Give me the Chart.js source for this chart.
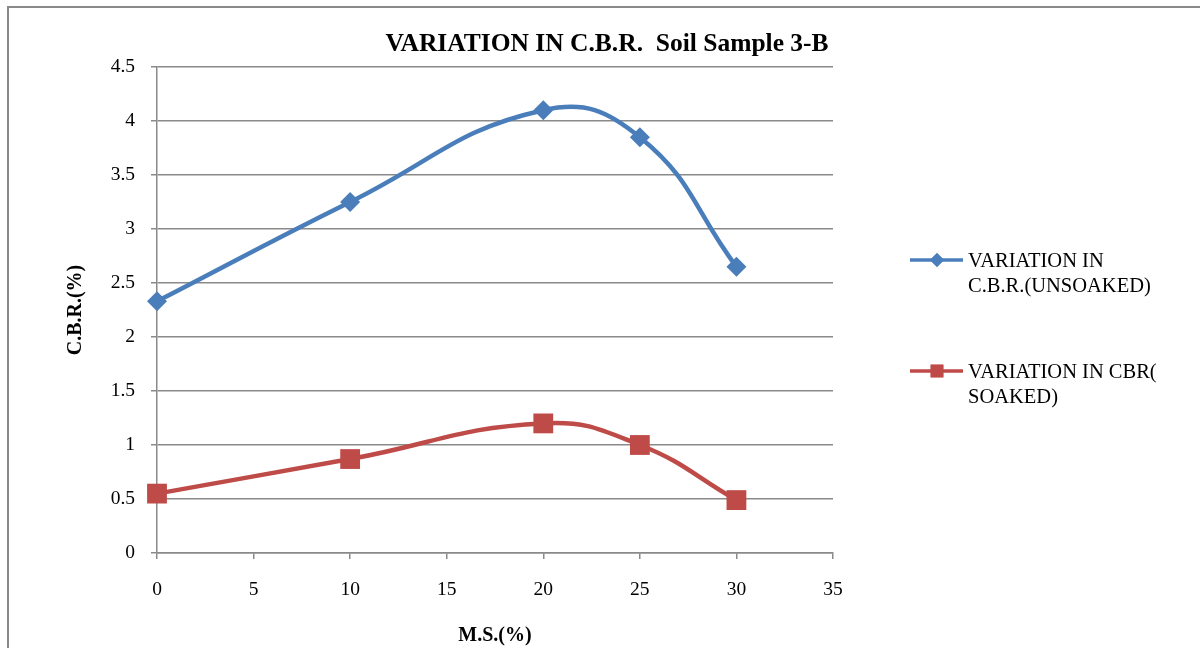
<!DOCTYPE html>
<html lang="en">
<head>
    <meta charset="UTF-8">
    <title>VARIATION IN C.B.R. Soil Sample 3-B</title>
    <script src="https://cdn.jsdelivr.net/npm/chart.js"></script>
    <style>
        html, body { margin: 0; padding: 0; background: #fff; }
        #wrap { width: 1200px; height: 648px; }
    </style>
</head>
<body>
    <div id="wrap"><canvas id="myChart" width="1200" height="648"></canvas></div>
    <script>
        const msPercent = [0, 10, 20, 25, 30];
        const cbrUnsoaked = [2.33, 3.25, 4.1, 3.85, 2.65];
        const cbrSoaked = [0.55, 0.87, 1.2, 1.0, 0.49];
        const seriesNames = [['VARIATION IN', 'C.B.R.(UNSOAKED)'], ['VARIATION IN CBR(', 'SOAKED)']];
        const chartTitle = 'VARIATION IN C.B.R.  Soil Sample 3-B';

        const blue = '#4A7EBB';
        const red = '#BE4B48';
        const grey = '#8a8a8a';
        const serif = "'Liberation Serif', 'Times New Roman', serif";

        const toPoints = ys => msPercent.map((x, i) => ({ x: x, y: ys[i] }));

        // title, legend and outer frame drawn by hand (Excel-like placement)
        const extras = {
            id: 'extras',
            afterDraw(chart) {
                const ctx = chart.ctx;
                ctx.save();
                ctx.strokeStyle = grey;
                ctx.lineWidth = 2;
                ctx.strokeRect(8, 7, 1300, 800);

                ctx.fillStyle = '#000';
                ctx.font = 'bold 25.5px ' + serif;
                ctx.textAlign = 'center';
                ctx.textBaseline = 'alphabetic';
                ctx.fillText(chartTitle, 607, 51);

                const items = [
                    { color: blue, style: 'rectRot', r: 7, y: 260, base: 267 },
                    { color: red, style: 'rect', r: 9, y: 371, base: 378 }
                ];
                ctx.font = '20.5px ' + serif;
                ctx.textAlign = 'left';
                items.forEach((it, i) => {
                    ctx.strokeStyle = it.color;
                    ctx.lineWidth = 3.5;
                    ctx.beginPath();
                    ctx.moveTo(910, it.y);
                    ctx.lineTo(963, it.y);
                    ctx.stroke();
                    ctx.fillStyle = it.color;
                    Chart.helpers.drawPoint(ctx, { pointStyle: it.style, radius: it.r, borderWidth: 0 }, 937, it.y);
                    ctx.fill();
                    ctx.fillStyle = '#000';
                    seriesNames[i].forEach((line, j) => ctx.fillText(line, 968, it.base + j * 25));
                });
                ctx.restore();
            }
        };

        new Chart(document.getElementById('myChart'), {
            type: 'scatter',
            data: {
                datasets: [
                    {
                        label: seriesNames[0].join(' '),
                        data: toPoints(cbrUnsoaked),
                        showLine: true,
                        clip: false,
                        borderColor: blue,
                        backgroundColor: blue,
                        borderWidth: 4.5,
                        tension: 0.45,
                        pointStyle: 'rectRot',
                        pointRadius: 10,
                        pointBorderWidth: 0
                    },
                    {
                        label: seriesNames[1].join(' '),
                        data: toPoints(cbrSoaked),
                        showLine: true,
                        clip: false,
                        borderColor: red,
                        backgroundColor: red,
                        borderWidth: 4.5,
                        tension: 0.45,
                        pointStyle: 'rect',
                        pointRadius: 14,
                        pointBorderWidth: 0
                    }
                ]
            },
            options: {
                responsive: false,
                animation: false,
                layout: { padding: { left: 0, top: 67, right: 367, bottom: 0 } },
                plugins: {
                    legend: { display: false },
                    title: { display: false },
                    tooltip: { enabled: false }
                },
                scales: {
                    x: {
                        type: 'linear',
                        min: 0,
                        max: 35,
                        afterFit: s => { s.height = 95; },
                        ticks: { stepSize: 5, padding: 19, color: '#000', font: { family: serif, size: 19.5 } },
                        grid: { drawOnChartArea: false, tickLength: 6, color: grey, lineWidth: 1.5 },
                        border: { color: grey, width: 1.5 },
                        title: { display: true, text: 'M.S.(%)', color: '#000', font: { family: serif, size: 20, weight: 'bold' }, padding: { top: 0, bottom: 0 } }
                    },
                    y: {
                        min: 0,
                        max: 4.5,
                        afterFit: s => { s.width = 157; },
                        ticks: { stepSize: 0.5, padding: 16, color: '#000', font: { family: serif, size: 19.5 }, callback: v => String(v) },
                        grid: { tickLength: 6, color: grey, lineWidth: 1.5 },
                        border: { color: grey, width: 1.5 },
                        title: { display: true, text: 'C.B.R.(%)', color: '#000', font: { family: serif, size: 20, weight: 'bold' }, padding: { top: 64, bottom: 0 } }
                    }
                }
            },
            plugins: [extras]
        });
    </script>
</body>
</html>
